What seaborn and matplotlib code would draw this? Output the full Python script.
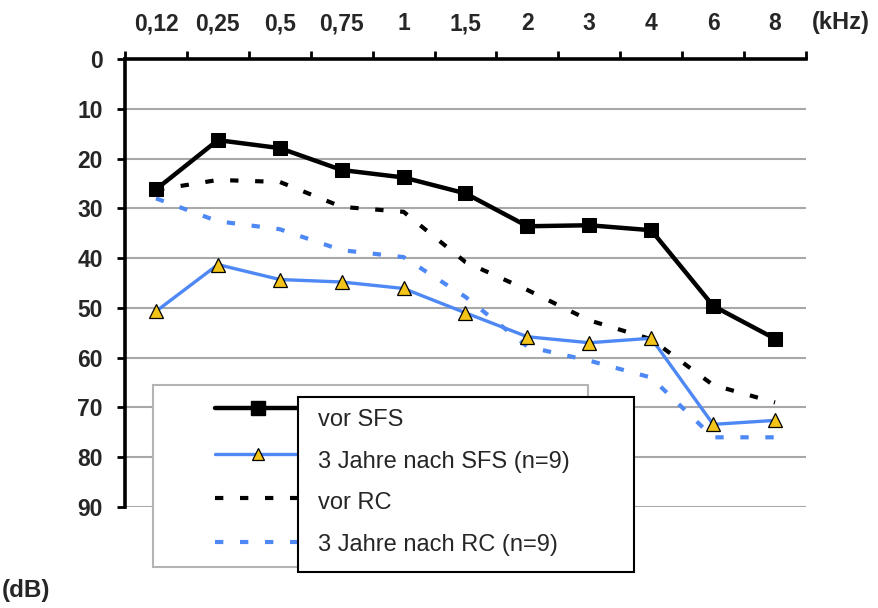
import matplotlib
matplotlib.use("Agg")
import matplotlib.pyplot as plt
from matplotlib.lines import Line2D
from matplotlib.patches import Rectangle
import seaborn as sns
import pandas as pd

# Audiogram: mean hearing thresholds (dB) per frequency (kHz)
freqs = ["0,12", "0,25", "0,5", "0,75", "1", "1,5", "2", "3", "4", "6", "8"]
vor_sfs = [26.2, 16.3, 17.9, 22.3, 23.8, 27.0, 33.6, 33.4, 34.4, 49.6, 56.2]
nach_sfs = [50.7, 41.3, 44.3, 44.8, 46.1, 51.0, 55.8, 57.0, 56.1, 73.4, 72.6]
vor_rc = [26.3, 24.3, 24.7, 29.7, 30.7, 40.8, 46.4, 52.5, 56.3, 65.5, 69.0]
nach_rc = [28.0, 32.6, 34.2, 38.4, 39.8, 47.8, 57.8, 60.6, 64.0, 76.0, 76.0]
labels = ["vor SFS", "3 Jahre nach SFS (n=9)", "vor RC", "3 Jahre nach RC (n=9)"]
y_ticks = [0, 10, 20, 30, 40, 50, 60, 70, 80, 90]

BLUE = "#4d88f5"
GOLD = "#f2c318"
GRID = "#a8a8a8"
DASH = (0, (2.0, 4.0))
DASH_LW = 3.0

sns.set_theme(style="white")
plt.rcParams["font.family"] = ["Liberation Sans", "DejaVu Sans"]

W, H = 879, 608
fig = plt.figure(figsize=(W / 100, H / 100), dpi=100)
fig.patch.set_facecolor("white")


def fx(px):
    return px / W


def fy(py):
    return 1 - py / H


ax = fig.add_axes([fx(125), fy(507), fx(806) - fx(125), fy(59) - fy(507)])
ax.set_facecolor("white")

df = pd.DataFrame({"freq": freqs, "vor_sfs": vor_sfs, "nach_sfs": nach_sfs,
                   "vor_rc": vor_rc, "nach_rc": nach_rc})

# horizontal grid
for v in y_ticks[1:]:
    ax.axhline(v, color=GRID, lw=1.5, zorder=1)

sns.lineplot(data=df, x="freq", y="vor_rc", ax=ax, sort=False, color="black",
             lw=DASH_LW, linestyle=DASH, zorder=3)
sns.lineplot(data=df, x="freq", y="nach_rc", ax=ax, sort=False, color=BLUE,
             lw=DASH_LW, linestyle=DASH, zorder=3)
sns.lineplot(data=df, x="freq", y="vor_sfs", ax=ax, sort=False, color="black",
             lw=3.2, marker="s", markersize=9.5, markeredgecolor="black",
             markerfacecolor="black", zorder=4)
sns.lineplot(data=df, x="freq", y="nach_sfs", ax=ax, sort=False, color=BLUE,
             lw=2.4, marker="^", markersize=10.5, markeredgecolor="black",
             markeredgewidth=0.9, markerfacecolor=GOLD, zorder=4)

ax.set_xlim(-0.5, len(freqs) - 0.5)
ax.set_ylim(90, 0)
ax.set_xlabel("")
ax.set_ylabel("")

# x axis on top: tick marks between categories, labels at category centres
ax.xaxis.tick_top()
ax.set_xticks([i - 0.5 for i in range(len(freqs) + 1)])
ax.set_xticklabels([])
ax.set_xticks(range(len(freqs)), minor=True)
ax.set_xticklabels(freqs, minor=True, fontsize=16.5, fontweight="bold")
ax.tick_params(axis="x", which="major", direction="out", length=6, width=2,
               color="black", top=True, bottom=False)
ax.tick_params(axis="x", which="minor", length=0, pad=17, top=True, bottom=False)

ax.set_yticks(y_ticks)
ax.set_yticklabels([str(v) for v in y_ticks], fontsize=16.5, fontweight="bold")
ax.tick_params(axis="y", direction="out", length=6, width=2, color="black",
               pad=10, left=True)

for s in ["bottom", "right"]:
    ax.spines[s].set_visible(False)
for s in ["top", "left"]:
    ax.spines[s].set_color("black")
    ax.spines[s].set_linewidth(2.6)

fig.text(fx(812), fy(23), "(kHz)", fontsize=17, fontweight="bold",
         ha="left", va="center")
fig.text(fx(2), fy(591), "(dB)", fontsize=17.5, fontweight="bold",
         ha="left", va="center")

# legend: grey frame with the line samples, black-framed box with the labels
fig.add_artist(Rectangle((fx(153), fy(567)), fx(588) - fx(153), fy(385) - fy(567),
                         transform=fig.transFigure, facecolor="white",
                         edgecolor="#b4b4b4", lw=1.5, zorder=5))
styles = [
    dict(color="black", lw=3.2, marker="s", markersize=9.5, markerfacecolor="black",
         markeredgecolor="black"),
    dict(color=BLUE, lw=2.4, marker="^", markersize=9, markerfacecolor=GOLD,
         markeredgecolor="black", markeredgewidth=0.9),
    dict(color="black", lw=DASH_LW, linestyle=DASH),
    dict(color=BLUE, lw=DASH_LW, linestyle=DASH),
]
rows = [408, 454, 498, 542]
for st, r in zip(styles, rows):
    ln = Line2D([fx(215), fx(298)], [fy(r), fy(r)], transform=fig.transFigure,
                zorder=6, **{k: v for k, v in st.items() if not k.startswith("marker")})
    fig.add_artist(ln)
    if "marker" in st:
        mk = Line2D([fx(258)], [fy(r)], transform=fig.transFigure, zorder=7,
                    linestyle="none", **{k: v for k, v in st.items()
                                         if k.startswith("marker")})
        fig.add_artist(mk)

fig.add_artist(Rectangle((fx(298), fy(572)), fx(634) - fx(298), fy(397) - fy(572),
                         transform=fig.transFigure, facecolor="white",
                         edgecolor="black", lw=1.5, zorder=8))
for lab, r in zip(labels, [420, 462, 503, 545]):
    fig.text(fx(318), fy(r), lab, fontsize=17, ha="left", va="center", zorder=9)

fig.savefig("out.png", dpi=100, facecolor="white")
